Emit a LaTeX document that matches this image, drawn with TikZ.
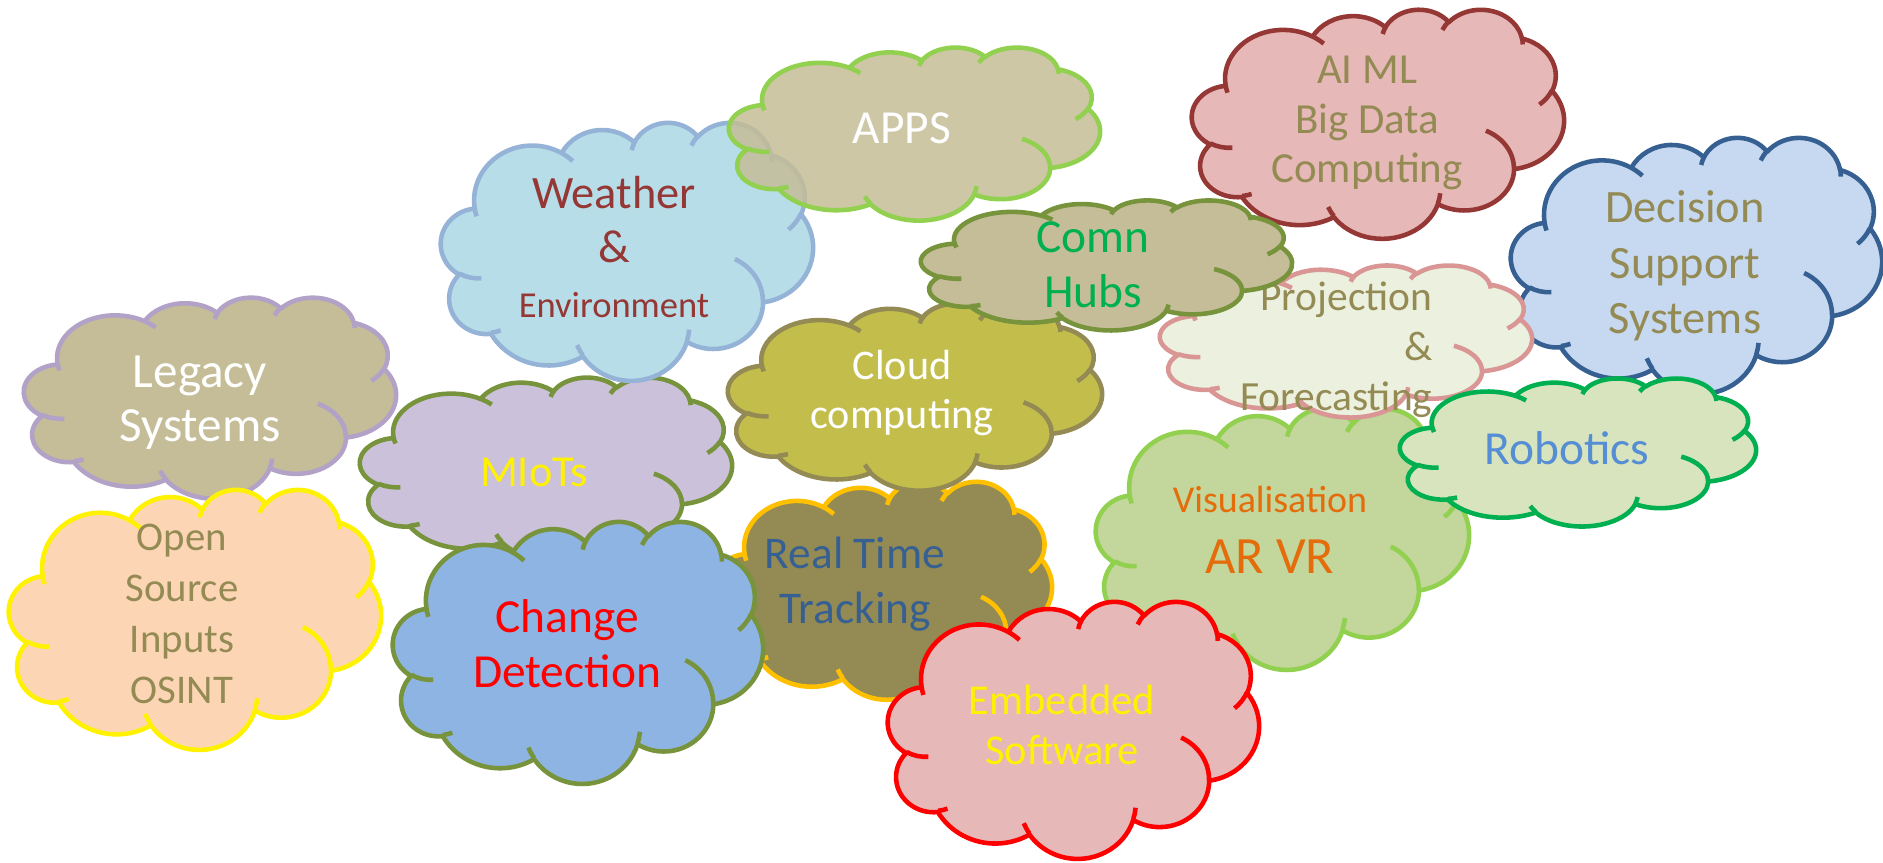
\documentclass[tikz,border=0pt]{standalone}
\usepackage{fontspec}
\setmainfont{Carlito}
\definecolor{tanfill}{HTML}{C4BD97}
\definecolor{lilacline}{HTML}{B3A2C7}
\definecolor{peachfill}{HTML}{FCD5B5}
\definecolor{lilacfill}{HTML}{CCC1DA}
\definecolor{oliveline}{HTML}{77933C}
\definecolor{skyfill}{HTML}{B7DEE8}
\definecolor{skyline}{HTML}{95B3D7}
\definecolor{limeline}{HTML}{92D050}
\definecolor{rosefill}{HTML}{E6B9B8}
\definecolor{wineline}{HTML}{953735}
\definecolor{icefill}{HTML}{C6D9F1}
\definecolor{navyline}{HTML}{376092}
\definecolor{sagefill}{HTML}{C3D69B}
\definecolor{creamfill}{HTML}{EBF1DE}
\definecolor{pinkline}{HTML}{D99694}
\definecolor{mudfill}{HTML}{948A54}
\definecolor{amberline}{HTML}{FFC000}
\definecolor{mustardfill}{HTML}{C3BE4C}
\definecolor{mintfill}{HTML}{D7E4BD}
\definecolor{greenline}{HTML}{00B050}
\definecolor{bluefill}{HTML}{8EB4E3}
\definecolor{olivetext}{HTML}{948A54}
\definecolor{bluetext}{HTML}{558ED5}
\definecolor{orangetext}{HTML}{E46C0A}
\tikzset{
  cloudedge/.style={line width=1.3pt, line join=round},
  cloudtext/.style={align=center, inner sep=0pt}
}
\newcommand{\pptarc}[4]{%
  \pgfextra{%
    \pgfmathparse{atan2(#1*sin(#3),#2*cos(#3))}\xdef\arcA{\pgfmathresult}%
    \pgfmathparse{atan2(#1*sin(#3+#4),#2*cos(#3+#4))}\xdef\arcB{\pgfmathresult}%
    \pgfmathparse{\arcB-\arcA}%
    \ifdim\pgfmathresult pt<0pt \pgfmathparse{\pgfmathresult+360}\fi
    \xdef\arcD{\pgfmathresult}%
  }%
  arc[x radius=#1, y radius=#2, start angle=\arcA, delta angle=\arcD]}
\newcommand{\drawcloud}[6]{%
  \begin{scope}[shift={(#3,#4)}, xscale=#5/432, yscale=#6/432]
    \path[cloudedge, #2] (39.00,143.70)
      \pptarc{67.53}{91.90}{-190.4875}{123.7805}
      \pptarc{53.33}{72.67}{-144.1024}{89.9452}
      \pptarc{43.65}{59.45}{-145.8079}{99.7230}
      \pptarc{48.57}{65.95}{-130.9861}{117.2417}
      \pptarc{53.33}{72.73}{-78.7089}{109.0269}
      \pptarc{67.75}{92.20}{-46.2673}{130.2690}
      \pptarc{57.85}{78.67}{0.6250}{114.0333}
      \pptarc{67.52}{92.15}{22.4516}{115.1726}
      \pptarc{77.20}{105.43}{66.2426}{75.7110}
      \pptarc{43.60}{59.18}{-274.9421}{146.7356}
      \pptarc{43.45}{59.45}{-246.8285}{152.5189}
      -- cycle;
    \path[cloudedge, #2, fill=none]
      (46.93,261.77) \pptarc{43.45}{59.45}{86.7420}{26.4295}
      (69.28,348.99) \pptarc{43.60}{59.18}{73.6105}{11.4475}
      (164.78,390.90) \pptarc{67.52}{92.15}{137.6242}{14.0811}
      (288.27,347.51) \pptarc{67.52}{92.15}{6.4533}{15.9984}
      (341.29,229.54) \pptarc{57.85}{78.67}{-70.2924}{70.9174}
      (417.98,153.54) \pptarc{53.33}{72.73}{30.3180}{27.7515}
      (383.24,54.26) \pptarc{48.57}{65.95}{-13.7443}{14.8589}
      (290.78,39.52) \pptarc{48.57}{65.95}{-149.1815}{18.1954}
      (221.41,47.20) \pptarc{43.65}{59.45}{-163.4943}{17.6864}
      (140.00,51.92) \pptarc{67.53}{91.90}{-66.7070}{12.3194}
      (41.27,157.89) \pptarc{67.53}{91.90}{157.6544}{11.8582};
    \coordinate (#1) at (216,216);
  \end{scope}}
\begin{document}
\begin{tikzpicture}[x=0.1mm, y=-0.1mm]
  \useasboundingbox (0,0) rectangle (1883,862);
  \drawcloud{legacy}{fill=tanfill, draw=lilacline}{24}{297}{372}{201}
  \node[cloudtext, text=white, font={\fontsize{14}{15.4}\selectfont}] (legacytext) at (200,403) {Legacy\\Systems};
  \drawcloud{osint}{fill=peachfill, draw=yellow}{9}{489}{372}{260}
  \node[cloudtext, text=olivetext, font={\fontsize{11.6}{14.5}\selectfont}] (osinttext) at (182,614) {Open\\Source\\Inputs\\OSINT};
  \drawcloud{miots}{fill=lilacfill, draw=oliveline}{360}{377}{372}{182}
  \node[cloudtext, text=yellow, font={\fontsize{12.6}{15}\selectfont}] (miotstext) at (534,472) {MIoTs};
  \drawcloud{weather}{fill=skyfill, draw=skyline}{441}{122}{372}{258}
  \node[cloudtext, text=wineline, font={\fontsize{13.2}{15.4}\selectfont}] (weathertext) at (614,247) {Weather\\\&\\{\fontsize{10.4}{13.6}\selectfont Environment}};
  \drawcloud{apps}{fill=tanfill, fill opacity=0.85, draw=limeline}{729}{47}{371}{173}
  \node[cloudtext, text=white, font={\fontsize{13.5}{15}\selectfont}] (appstext) at (902,128) {APPS};
  \drawcloud{aiml}{fill=rosefill, draw=wineline}{1192}{9}{372}{229}
  \node[cloudtext, text=olivetext, font={\fontsize{12.2}{14.2}\selectfont}] (aimltext) at (1367,123) {AI ML\\Big Data\\Computing};
  \drawcloud{decision}{fill=icefill, draw=navyline}{1511}{137}{371}{256}
  \node[cloudtext, text=olivetext, font={\fontsize{13.2}{15.8}\selectfont}] (decisiontext) at (1685,266) {Decision\\Support\\Systems};
  \drawcloud{visual}{fill=sagefill, draw=limeline}{1096}{408}{373}{261}
  \node[cloudtext, text=orangetext, font={\fontsize{14.9}{17.4}\selectfont}] (visualtext) at (1270,530) {{\fontsize{10.8}{13}\selectfont Visualisation}\\AR VR};
  \drawcloud{projection}{fill=creamfill, draw=pinkline}{1160}{265}{372}{152}
  \node[cloudtext, align=right, anchor=east, text=olivetext, font={\fontsize{11.8}{14.2}\selectfont}] (projectiontext) at (1433,350) {Projection\\\&\\Forecasting};
  \drawcloud{realtime}{fill=mudfill, draw=amberline}{714}{481}{338}{218}
  \node[cloudtext, text=navyline, font={\fontsize{12.9}{15.65}\selectfont}] (realtimetext) at (855,584) {Real Time\\Tracking};
  \drawcloud{cloudcomp}{fill=mustardfill, draw=mudfill}{728}{303}{374}{187}
  \node[cloudtext, text=white, font={\fontsize{12}{14}\selectfont}] (cloudcomptext) at (902,393) {Cloud\\computing};
  \drawcloud{comn}{fill=tanfill, draw=oliveline}{921}{200}{371}{130}
  \node[cloudtext, text=greenline, font={\fontsize{13.5}{15.65}\selectfont}] (comntext) at (1093,265) {Comn\\Hubs};
  \drawcloud{robotics}{fill=mintfill, draw=greenline}{1400}{378}{356}{148}
  \node[cloudtext, text=bluetext, font={\fontsize{13.5}{15}\selectfont}] (roboticstext) at (1567,448) {Robotics};
  \drawcloud{change}{fill=bluefill, draw=oliveline}{393}{521}{370}{262}
  \node[cloudtext, text=red, font={\fontsize{13.5}{15.65}\selectfont}] (changetext) at (567,644) {Change\\Detection};
  \drawcloud{embedded}{fill=rosefill, draw=red}{888}{601}{371}{257}
  \node[cloudtext, text=yellow, font={\fontsize{12.1}{14.2}\selectfont}] (embeddedtext) at (1062,725) {Embedded\\Software};
\end{tikzpicture}
\end{document}
